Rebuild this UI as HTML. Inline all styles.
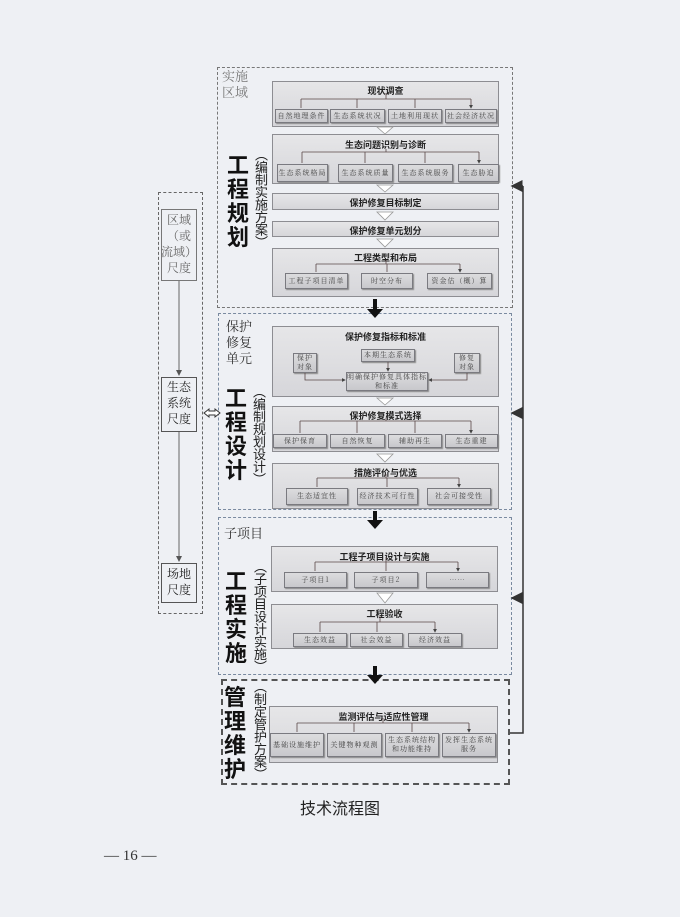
<!DOCTYPE html>
<html><head><meta charset="utf-8"><style>
body{margin:0;width:680px;height:917px;background:#eef0f4;position:relative;overflow:hidden;font-family:"Liberation Sans","Noto Sans CJK SC",sans-serif;}
.a{position:absolute;box-sizing:border-box;}
.p{position:absolute;box-sizing:border-box;background:linear-gradient(#e6e6e8,#d6d6da);border:1px solid #8d8d92;}
.t{position:absolute;left:0;right:0;text-align:center;font-weight:bold;font-size:9px;color:#222;}
.s{position:absolute;box-sizing:border-box;background:linear-gradient(#dcdcde,#c8c8cc);border:1px solid #7a7a80;box-shadow:1px 1px 1px #888;font-size:7px;color:#444;text-align:center;font-family:"Noto Serif CJK SC",serif;letter-spacing:1px;display:flex;align-items:center;justify-content:center;line-height:9px;}
.big{position:absolute;font-weight:bold;font-size:22px;line-height:24px;width:24px;color:#111;font-family:"Noto Sans CJK SC",sans-serif;}
.par{position:absolute;font-size:13px;line-height:14px;color:#222;font-family:"Noto Sans CJK SC",sans-serif;writing-mode:vertical-rl;letter-spacing:-0.5px;}
.lab{position:absolute;font-size:13px;line-height:16px;color:#555;font-family:"Noto Serif CJK SC",serif;}
</style></head><body>

<div class="a" style="left:217px;top:67px;width:296px;height:241px;border:1.5px dashed #777;"></div>
<div class="a" style="left:218px;top:313px;width:294px;height:197px;border:1.5px dashed #7a8aa0;"></div>
<div class="a" style="left:218px;top:517px;width:294px;height:158px;border:1.5px dashed #7a8aa0;"></div>
<div class="a" style="left:221px;top:679px;width:289px;height:106px;border:2px dashed #555;"></div>

<div class="a" style="left:158px;top:192px;width:45px;height:422px;border:1.5px dashed #666;"></div>
<div class="a" style="left:161px;top:209px;width:36px;height:72px;border:1px solid #777;background:#eef0f4;"></div>
<div class="lab" style="left:161px;top:212px;width:36px;text-align:center;color:#666;font-size:12px;line-height:16px;">区域<br>（或<br>流域）<br>尺度</div>
<div class="a" style="left:161px;top:377px;width:36px;height:55px;border:1px solid #555;background:#eef0f4;"></div>
<div class="lab" style="left:161px;top:379px;width:36px;text-align:center;color:#222;font-size:12px;">生态<br>系统<br>尺度</div>
<div class="a" style="left:161px;top:563px;width:36px;height:40px;border:1px solid #555;background:#eef0f4;"></div>
<div class="lab" style="left:161px;top:566px;width:36px;text-align:center;color:#222;font-size:12px;">场地<br>尺度</div>
<svg class="a" style="left:0;top:0" width="680" height="917">
<defs><marker id="m" markerWidth="6" markerHeight="6" refX="5" refY="3" orient="auto"><path d="M0,0L6,3L0,6z" fill="#555"/></marker>
<marker id="k" markerWidth="8" markerHeight="8" refX="7" refY="4" orient="auto"><path d="M0,0L8,4L0,8z" fill="#333"/></marker></defs>
<line x1="179" y1="281" x2="179" y2="375" stroke="#666" marker-end="url(#m)"/>
<line x1="179" y1="432" x2="179" y2="561" stroke="#666" marker-end="url(#m)"/>
<path d="M204,413 l5,-4 v2 h6 v-2 l5,4 l-5,4 v-2 h-6 v2z" fill="#fff" stroke="#333" stroke-width="1"/>
<polyline points="510,733 523,733 523,186" fill="none" stroke="#333" stroke-width="1.5"/>
<line x1="523" y1="186" x2="512" y2="186" stroke="#333" stroke-width="1.5" marker-end="url(#k)"/>
<line x1="523" y1="413" x2="512" y2="413" stroke="#333" stroke-width="1.5" marker-end="url(#k)"/>
<line x1="523" y1="598" x2="512" y2="598" stroke="#333" stroke-width="1.5" marker-end="url(#k)"/>
<g fill="#111"><rect x="373" y="299" width="4" height="12"/><path d="M367,309h16l-8,9z"/>
<rect x="373" y="511" width="4" height="12"/><path d="M367,520h16l-8,9z"/>
<rect x="373" y="666" width="4" height="12"/><path d="M367,675h16l-8,9z"/></g>
</svg>

<div class="lab" style="left:222px;top:68px;color:#777;">实施<br>区域</div>
<div class="big" style="left:227px;top:152px;">工程规划</div>
<div class="par" style="left:254px;top:148px;">（编制实施方案）</div>
<div class="lab" style="left:226px;top:318px;color:#333;">保护<br>修复<br>单元</div>
<div class="big" style="left:225px;top:385px;">工程设计</div>
<div class="par" style="left:252px;top:385px;">（编制规划设计）</div>
<div class="lab" style="left:224px;top:525px;color:#333;">子项目</div>
<div class="big" style="left:225px;top:568px;">工程实施</div>
<div class="par" style="left:253px;top:560px;">（子项目设计实施）</div>
<div class="big" style="left:224px;top:684px;">管理维护</div>
<div class="par" style="left:253px;top:680px;">（制定管护方案）</div>

<div class="p" style="left:272px;top:81px;width:227px;height:46px;"><div class="t" style="top:2px">现状调查</div></div>
<div class="s" style="left:275px;top:109px;width:53px;height:14px;">自然地理条件</div>
<div class="s" style="left:330px;top:109px;width:55px;height:14px;">生态系统状况</div>
<div class="s" style="left:388px;top:109px;width:54px;height:14px;">土地利用现状</div>
<div class="s" style="left:445px;top:109px;width:52px;height:14px;">社会经济状况</div>

<div class="p" style="left:272px;top:134px;width:227px;height:50px;"><div class="t" style="top:3px">生态问题识别与诊断</div></div>
<div class="s" style="left:277px;top:164px;width:51px;height:18px;">生态系统格局</div>
<div class="s" style="left:338px;top:164px;width:55px;height:18px;">生态系统质量</div>
<div class="s" style="left:398px;top:164px;width:55px;height:18px;">生态系统服务</div>
<div class="s" style="left:458px;top:164px;width:41px;height:18px;">生态胁迫</div>

<div class="p" style="left:272px;top:193px;width:227px;height:17px;"><div class="t" style="top:2px">保护修复目标制定</div></div>
<div class="p" style="left:272px;top:221px;width:227px;height:16px;"><div class="t" style="top:2px">保护修复单元划分</div></div>
<div class="p" style="left:272px;top:248px;width:227px;height:49px;"><div class="t" style="top:2px">工程类型和布局</div></div>
<div class="s" style="left:285px;top:273px;width:63px;height:16px;">工程子项目清单</div>
<div class="s" style="left:361px;top:273px;width:52px;height:16px;">时空分布</div>
<div class="s" style="left:427px;top:273px;width:65px;height:16px;">资金估（概）算</div>

<div class="p" style="left:272px;top:326px;width:227px;height:71px;"><div class="t" style="top:3px">保护修复指标和标准</div></div>
<div class="s" style="left:361px;top:349px;width:54px;height:13px;">本期生态系统</div>
<div class="s" style="left:293px;top:353px;width:24px;height:20px;">保护<br>对象</div>
<div class="s" style="left:454px;top:353px;width:26px;height:20px;">修复<br>对象</div>
<div class="s" style="left:346px;top:372px;width:82px;height:19px;">明确保护修复具体指标<br>和标准</div>

<div class="p" style="left:272px;top:406px;width:227px;height:46px;"><div class="t" style="top:2px">保护修复模式选择</div></div>
<div class="s" style="left:273px;top:434px;width:54px;height:14px;">保护保育</div>
<div class="s" style="left:330px;top:434px;width:55px;height:14px;">自然恢复</div>
<div class="s" style="left:388px;top:434px;width:54px;height:14px;">辅助再生</div>
<div class="s" style="left:445px;top:434px;width:53px;height:14px;">生态重建</div>

<div class="p" style="left:272px;top:463px;width:227px;height:46px;"><div class="t" style="top:2px">措施评价与优选</div></div>
<div class="s" style="left:286px;top:488px;width:62px;height:17px;">生态适宜性</div>
<div class="s" style="left:357px;top:488px;width:61px;height:17px;">经济技术可行性</div>
<div class="s" style="left:427px;top:488px;width:64px;height:17px;">社会可接受性</div>

<div class="p" style="left:271px;top:546px;width:227px;height:46px;"><div class="t" style="top:3px">工程子项目设计与实施</div></div>
<div class="s" style="left:284px;top:572px;width:63px;height:16px;">子项目1</div>
<div class="s" style="left:354px;top:572px;width:64px;height:16px;">子项目2</div>
<div class="s" style="left:426px;top:572px;width:63px;height:16px;">……</div>

<div class="p" style="left:271px;top:604px;width:227px;height:45px;"><div class="t" style="top:2px">工程验收</div></div>
<div class="s" style="left:293px;top:633px;width:54px;height:14px;">生态效益</div>
<div class="s" style="left:350px;top:633px;width:53px;height:14px;">社会效益</div>
<div class="s" style="left:408px;top:633px;width:54px;height:14px;">经济效益</div>

<div class="p" style="left:269px;top:706px;width:229px;height:57px;"><div class="t" style="top:3px">监测评估与适应性管理</div></div>
<div class="s" style="left:270px;top:733px;width:54px;height:24px;">基础设施维护</div>
<div class="s" style="left:327px;top:733px;width:55px;height:24px;">关键物种观测</div>
<div class="s" style="left:385px;top:733px;width:54px;height:24px;">生态系统结构<br>和功能维持</div>
<div class="s" style="left:442px;top:733px;width:54px;height:24px;">发挥生态系统<br>服务</div>

<svg class="a" style="left:0;top:0" width="680" height="917">
<defs><marker id="n" markerWidth="5" markerHeight="5" refX="4" refY="2.5" orient="auto"><path d="M0,0L5,2.5L0,5z" fill="#444"/></marker></defs>
<g stroke="#5a4848" stroke-width="0.8" fill="none">
<path d="M386,93v6M301,99h170"/><path d="M301,99v9M357,99v9M415,99v9M471,99v9" marker-end="url(#n)"/>
<path d="M386,149v3M302,152h177"/><path d="M302,152v11M365,152v11M425,152v11M479,152v11" marker-end="url(#n)"/>
<path d="M386,260v4M316,264h144"/><path d="M316,264v8M387,264v8M460,264v8" marker-end="url(#n)"/>
<path d="M388,362v9" marker-end="url(#n)"/>
<path d="M305,373v7h40" marker-end="url(#n)"/>
<path d="M467,373v7h-38" marker-end="url(#n)"/>
<path d="M386,418v3M300,421h171"/><path d="M300,421v12M357,421v12M415,421v12M471,421v12" marker-end="url(#n)"/>
<path d="M386,474v4M317,478h142"/><path d="M317,478v9M387,478v9M459,478v9" marker-end="url(#n)"/>
<path d="M386,557v5M315,562h143"/><path d="M315,562v9M386,562v9M458,562v9" marker-end="url(#n)"/>
<path d="M380,616v6M320,622h115"/><path d="M320,622v10M377,622v10M435,622v10" marker-end="url(#n)"/>
<path d="M383,718v5M297,723h172"/><path d="M297,723v9M354,723v9M412,723v9M469,723v9" marker-end="url(#n)"/>
</g>
<g fill="#fff" stroke="#999" stroke-width="0.8">
<path d="M377,127h16l-8,7z"/><path d="M377,185h16l-8,7z"/><path d="M377,212h16l-8,8z"/><path d="M377,239h16l-8,8z"/>
<path d="M377,398h16l-8,7z"/><path d="M377,454h16l-8,8z"/><path d="M377,593h16l-8,10z"/>
</g>
</svg>

<div class="a" style="left:290px;top:795px;width:100px;text-align:center;font-size:16px;color:#222;font-family:'Noto Sans CJK SC',sans-serif;">技术流程图</div>
<div class="a" style="left:104px;top:848px;font-size:15px;color:#333;font-family:'Liberation Serif',serif;">— 16 —</div>
</body></html>
